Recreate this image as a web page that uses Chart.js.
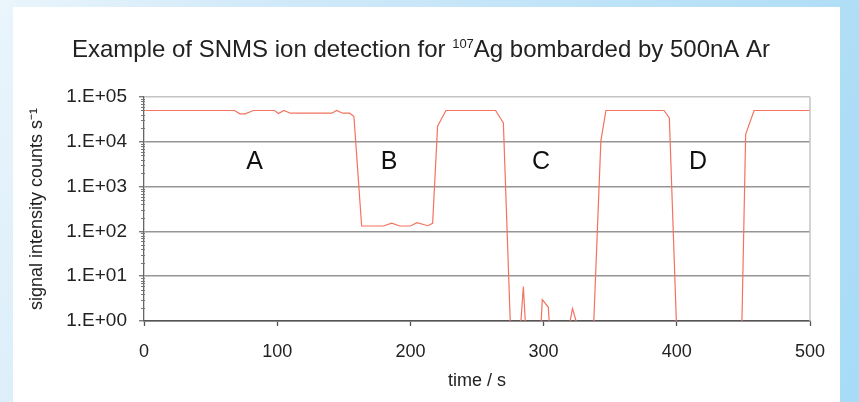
<!DOCTYPE html>
<html><head><meta charset="utf-8">
<script src="https://cdn.jsdelivr.net/npm/chart.js@4.4.1/dist/chart.umd.min.js"></script>
<style>
html,body{margin:0;padding:0;}
body{width:859px;height:402px;overflow:hidden;position:relative;background:linear-gradient(110deg,#eaf5fc 0%,#d2eaf9 25%,#a7dbf6 100%);}
#panel{position:absolute;left:13px;top:7px;width:827px;height:395px;background:#fff;}
#wrap{position:absolute;left:0;top:0;width:859px;height:402px;}
</style></head><body>
<div id="panel"></div>
<div id="wrap"><canvas id="c" width="859" height="402"></canvas></div>
<script>
// ---- chart data ----
const titleParts = ['Example of SNMS ion detection for ', '107', 'Ag bombarded by 500nA Ar'];
const titleIsSup = [false, true, false];
const xAxisTitle = 'time / s';
const yAxisTitle = 'signal intensity counts s\u207B\u00B9';

// time (s)
const times = [1, 68, 72, 76, 82, 98, 101, 105, 110, 141,
  144.6, 149, 154.5, 157.6, 163.4, 179.6, 186, 192, 200, 205,
  213, 216.7, 220.4, 226.7, 264, 269.8, 275.3, 282.3, 284.8, 286.8,
  297.7, 299, 303.5, 304.8, 318, 321.7, 327.3, 337.3, 343, 346.8,
  390.4, 394.4, 400, 448.7, 451.7, 458, 500];
// signal intensity (counts/s); 0.5 = below the 1 count floor of the axis
const counts = [50000, 50000, 42000, 42000, 50000, 50000, 43000, 50000, 43500, 43500,
  50000, 43500, 43500, 36700, 132, 132, 152, 132, 132, 156,
  134, 152, 22300, 50000, 50000, 26400, 0.5, 0.5, 5.9, 0.5,
  0.5, 3.0, 2.05, 0.5, 0.5, 1.9, 0.5, 0.5, 10500, 50000,
  50000, 34000, 0.5, 0.5, 14700, 50000, 50000];

const xTickValues = [0, 100, 200, 300, 400, 500];
const yTickValues = [1, 10, 100, 1000, 10000, 100000];
const yTickLabels = ['1.E+00', '1.E+01', '1.E+02', '1.E+03', '1.E+04', '1.E+05'];
const yMinorMultipliers = [2, 3, 4, 5, 6, 7, 8, 9];

const regionLabels = ['A', 'B', 'C', 'D'];
const regionTimes = [83, 184, 298, 416];
const regionLevel = 3500;

// ---- styles ----
const FONT = "'Liberation Sans', Arial, Helvetica, sans-serif";
const lineColor = '#f2735f';

const titlePlugin = {
  id: 'supTitle',
  afterDraw(chart) {
    const ctx = chart.ctx;
    ctx.save();
    ctx.fillStyle = '#222';
    ctx.textBaseline = 'alphabetic';
    ctx.textAlign = 'left';
    const fonts = titleIsSup.map(s => s ? '13px ' + FONT : '24px ' + FONT);
    let total = 0;
    const widths = titleParts.map((p, i) => { ctx.font = fonts[i]; const w = ctx.measureText(p).width; total += w; return w; });
    let x = 421 - total / 2;
    const base = 57;
    titleParts.forEach((p, i) => {
      ctx.font = fonts[i];
      ctx.fillText(p, x, titleIsSup[i] ? base - 9 : base);
      x += widths[i];
    });
    ctx.restore();
  }
};

const extras = {
  id: 'extras',
  afterDatasetsDraw(chart) {
    const {ctx, chartArea, scales} = chart;
    const xs = scales.x, ys = scales.y;
    ctx.save();
    // right border of plot area
    ctx.strokeStyle = '#c4c4c4';
    ctx.lineWidth = 1.5;
    ctx.beginPath();
    ctx.moveTo(chartArea.right, chartArea.top);
    ctx.lineTo(chartArea.right, chartArea.bottom);
    ctx.stroke();
    // minor log ticks on y axis
    ctx.strokeStyle = '#777';
    ctx.lineWidth = 1;
    for (let d = 0; d < yTickValues.length - 1; d++) {
      for (const m of yMinorMultipliers) {
        const y = Math.round(ys.getPixelForValue(yTickValues[d] * m)) + 0.5;
        ctx.beginPath();
        ctx.moveTo(chartArea.left - 3, y);
        ctx.lineTo(chartArea.left + 1, y);
        ctx.stroke();
      }
    }
    // region labels
    ctx.fillStyle = '#111';
    ctx.font = '25px ' + FONT;
    ctx.textAlign = 'center';
    ctx.textBaseline = 'middle';
    regionLabels.forEach((t, i) => {
      ctx.fillText(t, xs.getPixelForValue(regionTimes[i]), ys.getPixelForValue(regionLevel));
    });
    ctx.restore();
  }
};

new Chart(document.getElementById('c'), {
  type: 'line',
  data: {
    datasets: [{
      data: times.map((t, i) => ({x: t, y: counts[i]})),
      borderColor: lineColor,
      borderWidth: 1.2,
      pointRadius: 0,
      tension: 0,
      fill: false
    }]
  },
  options: {
    responsive: false,
    devicePixelRatio: 1,
    animation: false,
    layout: {padding: {left: 28, right: 49, top: 97, bottom: 0}},
    plugins: {
      legend: {display: false},
      tooltip: {enabled: false},
      title: {display: false}
    },
    scales: {
      x: {
        type: 'linear',
        min: 0, max: 500,
        afterBuildTicks: s => { s.ticks = xTickValues.map(v => ({value: v})); },
        afterFit: s => { s.height = 81; },
        grid: {drawOnChartArea: false, drawTicks: true, tickLength: 5, tickColor: '#555', tickWidth: 1.3},
        border: {display: true, color: '#555', width: 1.5},
        ticks: {color: '#222', font: {family: FONT, size: 18}, padding: 15, maxRotation: 0},
        title: {display: true, text: xAxisTitle, color: '#222', font: {family: FONT, size: 18, lineHeight: 1.2}, padding: {top: 0, bottom: 10.2}}
      },
      y: {
        type: 'logarithmic',
        min: 1, max: 100000,
        afterBuildTicks: s => { s.ticks = yTickValues.map(v => ({value: v})); },
        afterFit: s => { s.width = 116; },
        grid: {
          color: c => (c.tick && c.tick.value === 100000) ? '#c4c4c4' : '#959595',
          lineWidth: 1.5,
          drawTicks: true, tickLength: 5, tickColor: '#666', tickWidth: 1.2
        },
        border: {display: true, color: '#666', width: 1.3},
        ticks: {
          autoSkip: false,
          color: '#222', font: {family: FONT, size: 19}, padding: 12,
          callback: v => { const i = yTickValues.indexOf(v); return i >= 0 ? yTickLabels[i] : ''; }
        },
        title: {display: true, text: yAxisTitle, color: '#222', font: {family: FONT, size: 18, lineHeight: 1.0}, padding: {top: 0, bottom: 0}}
      }
    }
  },
  plugins: [extras, titlePlugin]
});
</script>
</body></html>
